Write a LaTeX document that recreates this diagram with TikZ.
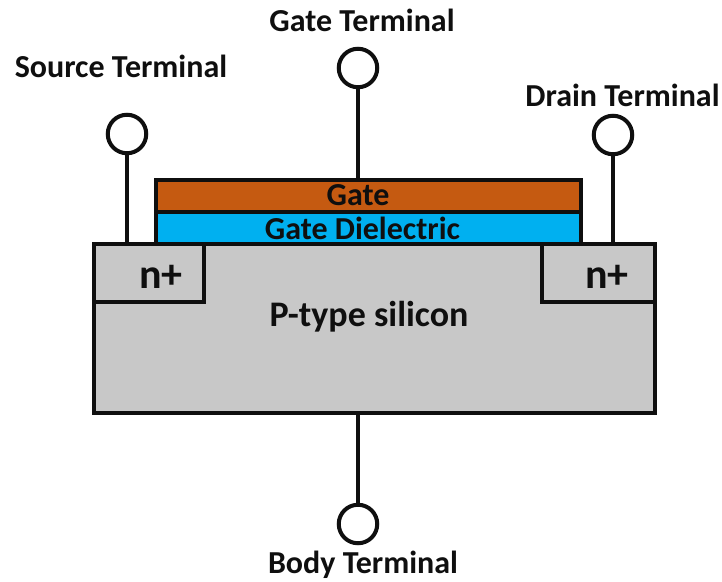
\documentclass[tikz,border=0pt]{standalone}
\usepackage{fontspec}
\setmainfont{Carlito}
\definecolor{sil}{RGB}{200,200,200}
\definecolor{gatec}{RGB}{197,90,17}
\definecolor{diel}{RGB}{0,176,240}
\definecolor{ink}{RGB}{15,15,15}
\tikzset{
 line/.style={draw=ink,line width=4pt},
 term/.style={circle,draw=ink,line width=4pt,fill=white,minimum size=38.5pt,inner sep=0pt},
 lab/.style={font=\bfseries\fontsize{32pt}{34pt}\selectfont,text=ink,inner sep=0pt,anchor=center},
 big/.style={font=\bfseries\fontsize{36pt}{38pt}\selectfont,text=ink,inner sep=0pt,anchor=center},
 nlab/.style={font=\bfseries\fontsize{42pt}{44pt}\selectfont,text=ink,inner sep=0pt,anchor=center},
}
\begin{document}
\begin{tikzpicture}[x=1pt,y=-1pt]
\useasboundingbox (0,0) rectangle (722,581);
\fill[white] (0,0) rectangle (722,581);
\node[term] (st) at (127,134) {};
\node[term] (gt) at (358,68) {};
\node[term] (dt) at (613,135) {};
\node[term] (bt) at (358,524) {};
\coordinate (sb) at (127,243);
\coordinate (gb) at (358,180);
\coordinate (db) at (613,243);
\coordinate (bb) at (358,413);
\draw[line] (st) -- (sb);
\draw[line] (gt) -- (gb);
\draw[line] (dt) -- (db);
\draw[line] (bt) -- (bb);
\node[line,fill=sil,minimum width=561pt,minimum height=169pt,inner sep=0pt] (body) at (374.5,328.5) {};
\node[line,fill=sil,minimum width=110pt,minimum height=58pt,inner sep=0pt] (ns) at (149,273) {};
\node[line,fill=sil,minimum width=113pt,minimum height=58pt,inner sep=0pt] (nd) at (598.5,273) {};
\node[line,fill=diel,minimum width=425pt,minimum height=32pt,inner sep=0pt] (die) at (368.5,227.5) {};
\node[line,fill=gatec,minimum width=425pt,minimum height=32pt,inner sep=0pt] (gate) at (368.5,195.5) {};
\node[lab] at (358,195.5) {Gate};
\node[lab] at (362.5,228) {Gate Dielectric};
\node[nlab] at (161,277) {n+};
\node[nlab] at (607,277) {n+};
\node[big] at (369,316.5) {P-type silicon};
\node[lab] at (121,66) {Source Terminal};
\node[lab] at (362,20) {Gate Terminal};
\node[lab] at (622.5,95) {Drain Terminal};
\node[lab] at (363,565) {Body Terminal};
\end{tikzpicture}
\end{document}
